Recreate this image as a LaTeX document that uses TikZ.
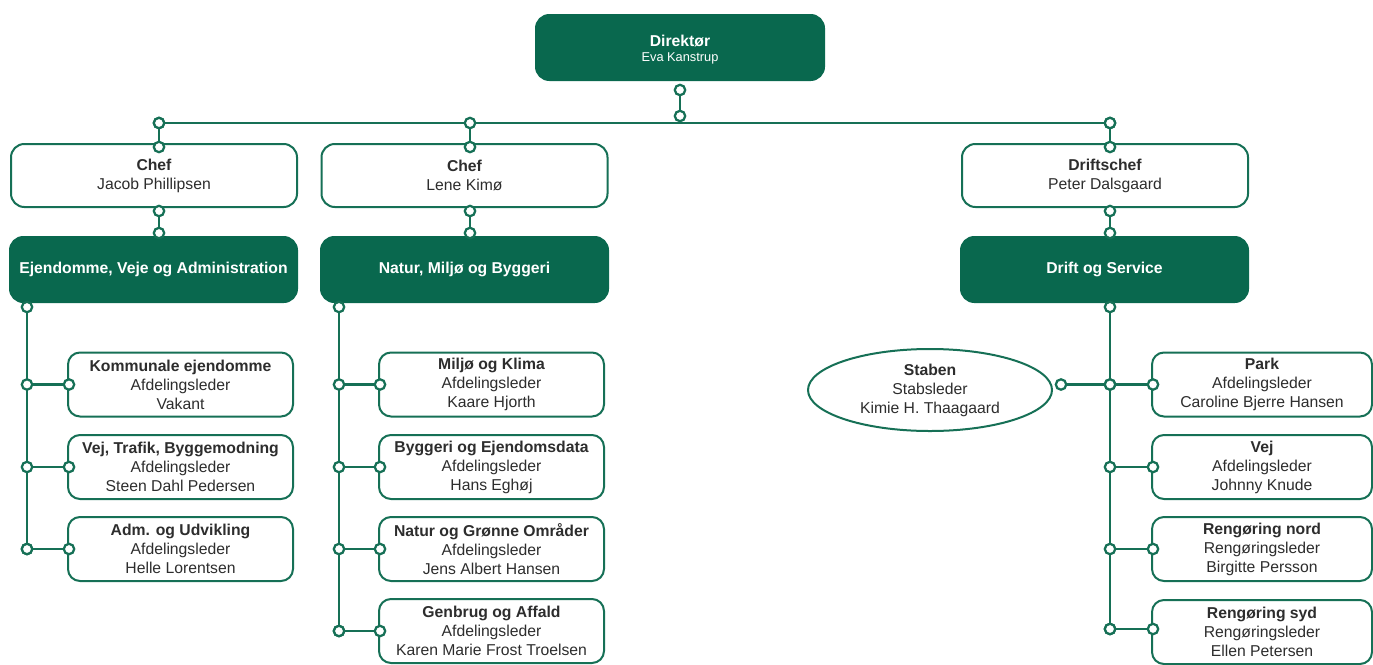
\documentclass[tikz,border=0pt]{standalone}
\usepackage{fontspec}
\setmainfont{Liberation Sans}
\usetikzlibrary{arrows.meta,calc,shapes.geometric}

\definecolor{darkgreen}{RGB}{9,104,78}
\definecolor{linegreen}{RGB}{22,112,86}
\definecolor{boxtext}{RGB}{45,45,45}
\newcommand{\orgfont}{\fontsize{11.8pt}{14.2pt}\selectfont}

\tikzset{
  box/.style={rectangle, rounded corners=9pt, draw=linegreen, line width=1.5pt,
    fill=white, align=center, text=boxtext, font=\orgfont, inner sep=2pt},
  chefbox/.style={box, rounded corners=10pt, minimum width=214.5pt, minimum height=47.25pt},
  unitbox/.style={box, rounded corners=10pt, fill=darkgreen, draw=darkgreen, text=white,
    font=\orgfont\bfseries, minimum width=215.25pt, minimum height=48.75pt},
  subbox/.style={box, minimum width=168.75pt, minimum height=48pt},
  link/.style={draw=linegreen, line width=2.2pt,
    {Circle[length=9.5pt,width=9.5pt,fill=white,line width=1.7pt]}-{Circle[length=9.5pt,width=9.5pt,fill=white,line width=1.7pt]},
    shorten <=-4.75pt, shorten >=-4.75pt}
}

\begin{document}
\begin{tikzpicture}[x=0.75pt,y=-0.75pt]
    \useasboundingbox (0,0) rectangle (1373,664);

    % Director
    \node[unitbox, font=\orgfont, minimum width=216pt, minimum height=48.75pt] (dir) at (680,47.5)
      {\rule{0pt}{12pt}{\bfseries Direktør}\\[-2.5pt]{\fontsize{9.6pt}{12pt}\selectfont Eva Kanstrup}};

    % Chefs
    \node[chefbox] (chef1) at (154,175.5) {{\bfseries Chef}\\Jacob Phillipsen};
    \node[chefbox] (chef2) at (464.5,175.5) {{\bfseries Chef}\\Lene Kimø};
    \node[chefbox] (chef3) at (1105,175.5) {{\bfseries Driftschef}\\Peter Dalsgaard};

    % Units
    \node[unitbox] (unit1) at (153.5,269.5) {Ejendomme, Veje og Administration};
    \node[unitbox] (unit2) at (464.5,269.5) {Natur, Miljø og Byggeri};
    \node[unitbox] (unit3) at (1104.5,269.5) {Drift og Service};

    % Ejendomme, Veje og Administration
    \node[subbox] (ka) at (180.5,384.5) {{\bfseries Kommunale ejendomme}\\Afdelingsleder\\Vakant};
    \node[subbox] (kb) at (180.5,467) {{\bfseries Vej, Trafik, Byggemodning}\\Afdelingsleder\\Steen Dahl Pedersen};
    \node[subbox] (kc) at (180.5,549) {{\bfseries Adm. og Udvikling}\\Afdelingsleder\\Helle Lorentsen};

    % Natur, Miljoe og Byggeri
    \node[subbox] (na) at (491.5,384.5) {{\bfseries Miljø og Klima}\\Afdelingsleder\\Kaare Hjorth};
    \node[subbox] (nb) at (491.5,467) {{\bfseries Byggeri og Ejendomsdata}\\Afdelingsleder\\Hans Eghøj};
    \node[subbox] (nc) at (491.5,549) {{\bfseries Natur og Grønne Områder}\\Afdelingsleder\\Jens Albert Hansen};
    \node[subbox] (nd) at (491.5,631) {{\bfseries Genbrug og Affald}\\Afdelingsleder\\Karen Marie Frost Troelsen};

    % Drift og Service
    \node[subbox, minimum width=165pt] (da) at (1262,384.5) {{\bfseries Park}\\Afdelingsleder\\Caroline Bjerre Hansen};
    \node[subbox, minimum width=165pt] (db) at (1262,467) {{\bfseries Vej}\\Afdelingsleder\\Johnny Knude};
    \node[subbox, minimum width=165pt] (dc) at (1262,549) {{\bfseries Rengøring nord}\\Rengøringsleder\\Birgitte Persson};
    \node[subbox, minimum width=165pt] (dd) at (1262,632) {{\bfseries Rengøring syd}\\Rengøringsleder\\Ellen Petersen};

    % Staff
    \node[ellipse, draw=linegreen, line width=1.5pt, fill=white, align=center, text=boxtext,
      font=\orgfont, inner sep=0pt, minimum width=183pt, minimum height=61.5pt] (stab) at (930,390)
      {{\bfseries Staben}\\Stabsleder\\Kimie H. Thaagaard};

    % Junctions
    \coordinate (j0) at (680,123);
    \coordinate (b1) at (159,123);
    \coordinate (b2) at (470,123);
    \coordinate (b3) at (1110,123);
    \coordinate (t1) at (27,307);
    \coordinate (t2) at (339,307);
    \coordinate (t3) at (1110,307);

    % Top connectors
    \draw[link] ($(dir.south)+(0,9)$) -- ($(j0)+(0,-7)$);
    \draw[link] (b1) -- (b3);
    \draw[link] (b1) -- ($(b1 |- chef1.north)+(0,4)$);
    \draw[link] (b2) -- ($(b2 |- chef2.north)+(0,4)$);
    \draw[link] (b3) -- ($(b3 |- chef3.north)+(0,4)$);
    \draw[link] ($(b1 |- chef1.south)+(0,3)$) -- ($(b1 |- unit1.north)+(0,-3)$);
    \draw[link] ($(b2 |- chef2.south)+(0,3)$) -- ($(b2 |- unit2.north)+(0,-3)$);
    \draw[link] ($(b3 |- chef3.south)+(0,3)$) -- ($(b3 |- unit3.north)+(0,-3)$);

    % Trunks
    \draw[link] (t1) -- (t1 |- kc.west);
    \draw[link] (t2) -- (t2 |- nd.west);
    \draw[link] (t3) -- ($(t3 |- dd.west)+(0,-3)$);

    % Branches
    \foreach \n in {ka,kb,kc}
      \draw[link] (t1 |- \n.west) -- ($(\n.west)+(2,0)$);
    \foreach \n in {na,nb,nc,nd}
      \draw[link] (t2 |- \n.west) -- ($(\n.west)+(2,0)$);
    \foreach \n in {da,db,dc}
      \draw[link] (t3 |- \n.west) -- ($(\n.west)+(2,0)$);
    \draw[link] ($(t3 |- dd.west)+(0,-3)$) -- ($(dd.west)+(2,-3)$);
    \draw[link] ($(stab.east |- da.west)+(8,0)$) -- (t3 |- da.west);
\end{tikzpicture}
\end{document}
